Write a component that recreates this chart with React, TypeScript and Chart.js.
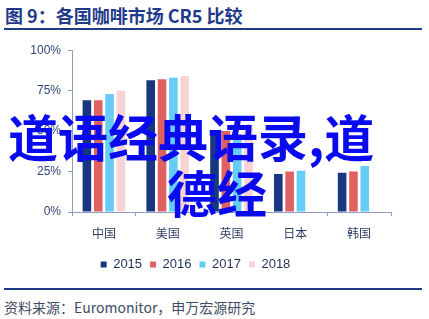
import { useEffect, useRef } from 'react';
import { Chart, registerables } from 'chart.js';

Chart.register(...registerables);

const categories = ['中国', '美国', '英国', '日本', '韩国'];
const seriesNames = ['2015', '2016', '2017', '2018'];
const values2015 = [69, 81.5, 50, 23.5, 24.3];
const values2016 = [69, 82, 50, 25, 25];
const values2017 = [73, 83, 48, 25.5, 28.5];
const values2018 = [75, 84, 52, null, null];
const seriesColors = ['#17377E', '#E0615F', '#67CDF6', '#F8D3D6'];
const yTickValues = [0, 25, 50, 75, 100];

const FONT = '"Liberation Sans", "Noto Sans CJK SC", sans-serif';
const CJK = '"Noto Sans CJK SC", "Liberation Sans", sans-serif';
const AXIS = '#8C9FC0';

export default function App() {
  const ref = useRef<HTMLCanvasElement>(null);

  useEffect(() => {
    document.body.style.margin = '0';
    const all = [values2015, values2016, values2017, values2018];
    const chart = new Chart(ref.current!, {
      type: 'bar',
      data: {
        labels: categories,
        datasets: seriesNames.map((name, i) => ({
          label: name,
          data: all[i],
          backgroundColor: seriesColors[i],
          borderWidth: 0,
          categoryPercentage: 0.71,
          barPercentage: 0.76,
        })),
      },
      options: {
        animation: false,
        responsive: false,
        layout: { padding: { left: 0, right: 38, top: 14, bottom: 2 } },
        plugins: {
          legend: {
            position: 'bottom',
            labels: {
              boxWidth: 6,
              boxHeight: 6,
              padding: 8,
              color: '#1F2F5C',
              font: { size: 13, family: FONT },
            },
          },
          tooltip: { enabled: false },
        },
        scales: {
          x: {
            grid: { drawOnChartArea: false, drawTicks: true, tickLength: 4, color: AXIS, offset: true },
            border: { color: AXIS },
            ticks: { color: '#2E3E66', font: { size: 12, family: CJK }, padding: 10 },
            afterFit: (s: any) => { s.height = 38; },
          },
          y: {
            min: 0,
            max: 100,
            afterBuildTicks: (s: any) => { s.ticks = yTickValues.map((v) => ({ value: v })); },
            ticks: { color: '#2E4477', font: { size: 12, family: FONT }, padding: 7, callback: (v: any) => v + '%' },
            grid: { drawOnChartArea: false, tickLength: 4, color: AXIS },
            border: { color: AXIS },
            afterFit: (s: any) => { s.width = 72; },
          },
        },
      },
    });
    return () => chart.destroy();
  }, []);

  return (
    <div style={{ position: 'absolute', left: 0, top: 0, width: 429, height: 319, background: '#fff', overflow: 'hidden' }}>
      <div style={{ position: 'absolute', left: 5, top: 5, fontFamily: CJK, fontWeight: 700, fontSize: 18, lineHeight: '20px', color: '#1F3A8A', whiteSpace: 'nowrap' }}>
        图 9：各国咖啡市场 CR5 比较
      </div>
      <div style={{ position: 'absolute', left: 4, top: 28, width: 418, height: 2, background: '#1F3B87' }} />
      <div style={{ position: 'absolute', left: 0, top: 36, width: 429, height: 247 }}>
        <canvas ref={ref} width={429} height={247} />
      </div>
      <div style={{ position: 'absolute', left: 4, top: 288, width: 418, height: 2, background: '#1F3B87' }} />
      <div style={{ position: 'absolute', left: 4, top: 298, fontFamily: CJK, fontSize: 14, lineHeight: '18px', color: '#3F4A66', whiteSpace: 'nowrap' }}>
        资料来源：Euromonitor，申万宏源研究
      </div>
      <div style={{ position: 'absolute', left: 8, top: 110, fontFamily: CJK, fontWeight: 700, fontSize: 50, lineHeight: '50px', color: '#0A0AF0', whiteSpace: 'nowrap' }}>
        道语经典语录,道
      </div>
      <div style={{ position: 'absolute', left: 167, top: 166, fontFamily: CJK, fontWeight: 700, fontSize: 50, lineHeight: '50px', color: '#0A0AF0', whiteSpace: 'nowrap' }}>
        德经
      </div>
    </div>
  );
}
